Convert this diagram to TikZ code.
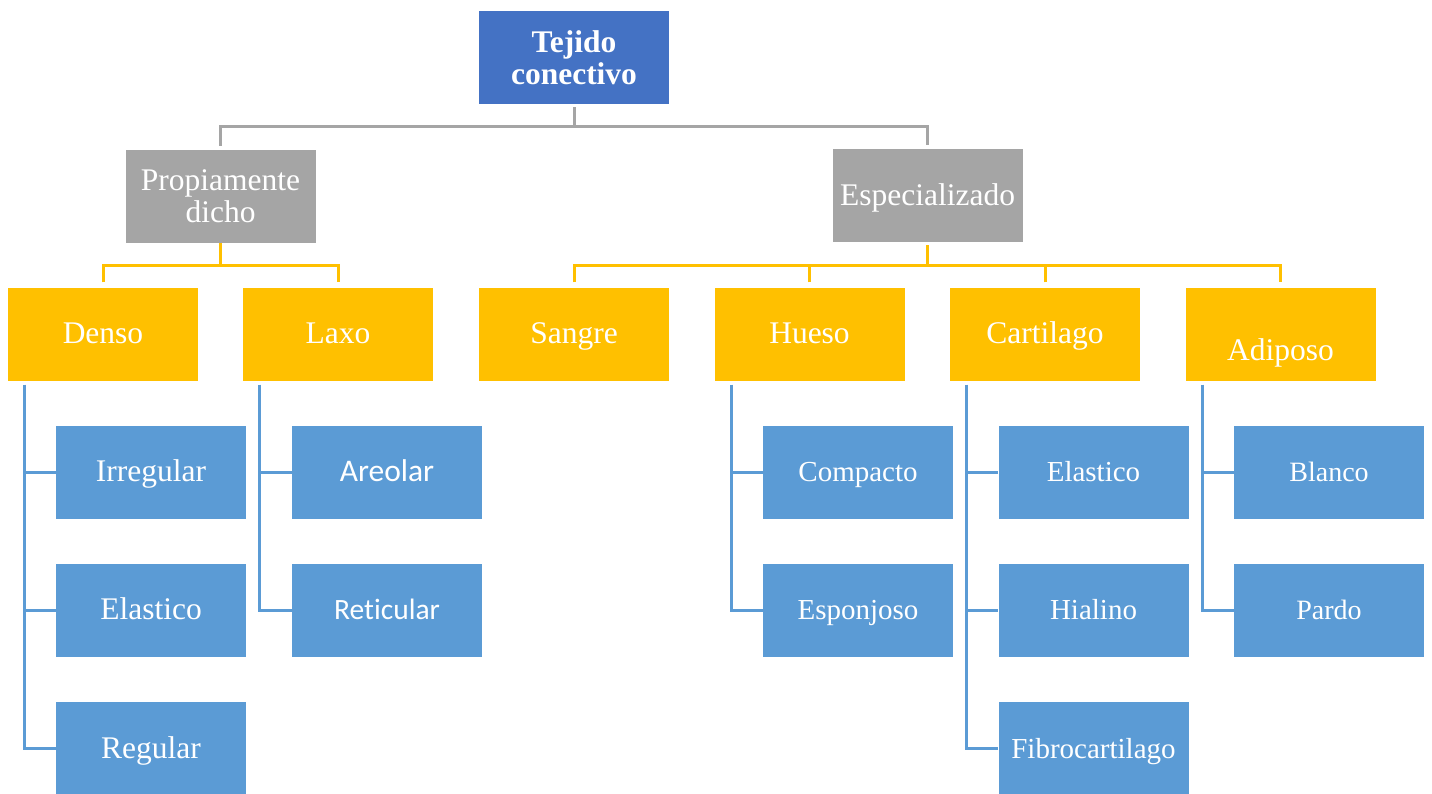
\documentclass[tikz,border=0pt]{standalone}
\usepackage{fontspec}
\setmainfont{Liberation Serif}
\newfontfamily\calib[Ligatures=NoCommon]{Carlito}
\definecolor{cblue}{HTML}{4472C4}
\definecolor{cgray}{HTML}{A5A5A5}
\definecolor{corange}{HTML}{FFC000}
\definecolor{clight}{HTML}{5B9BD5}
\tikzset{
  box/.style={rectangle, minimum width=190pt, minimum height=93pt, inner sep=0pt,
    text=white, align=center, font=\fontsize{31.5}{32}\selectfont},
  one/.style={text height=19pt, text depth=0pt},
  topbox/.style={box, fill=cblue, font=\fontsize{31.5}{32}\selectfont\bfseries},
  graybox/.style={box, fill=cgray},
  orangebox/.style={box, one, fill=corange},
  bluebox/.style={box, one, fill=clight},
  small/.style={font=\fontsize{29}{32}\selectfont},
  smaller/.style={font=\fontsize{28}{32}\selectfont},
  gl/.style={draw=cgray, line width=3pt},
  ol/.style={draw=corange, line width=3pt},
  bl/.style={draw=clight, line width=3pt},
}
\begin{document}
\begin{tikzpicture}[x=1pt,y=-1pt]
\clip (0,0) rectangle (1432,793);
\fill[white] (0,0) rectangle (1432,793);
% level 1
\node[topbox] (tej) at (574,57.5) {Tejido\\conectivo};
% level 2
\node[graybox] (prop) at (220.5,196.5) {Propiamente\\dicho};
\node[graybox, one] (esp) at (927.5,195.5) {Especializado};
% level 3
\node[orangebox] (denso) at (103,334) {Denso};
\node[orangebox] (laxo) at (338,334) {Laxo};
\node[orangebox] (sangre) at (574,334) {Sangre};
\node[orangebox] (hueso) at (809.5,334) {Hueso};
\node[orangebox] (cart) at (1045,334) {Cartilago};
\node[orangebox, text height=52pt] (adip) at (1280.5,334) {Adiposo};
% level 4
\node[bluebox] (irr) at (151,472) {Irregular};
\node[bluebox] (elad) at (151,610) {Elastico};
\node[bluebox] (reg) at (151,748.5) {Regular};
\node[bluebox, font=\fontsize{31.5}{32}\selectfont\calib] (are) at (387,472) {Areolar};
\node[bluebox, font=\fontsize{29.5}{32}\selectfont\calib] (ret) at (387,610) {Reticular};
\node[bluebox, small] (comp) at (858,472) {Compacto};
\node[bluebox, small] (espo) at (858,610) {Esponjoso};
\node[bluebox, small] (elac) at (1093.5,472) {Elastico};
\node[bluebox, small] (hial) at (1093.5,610) {Hialino};
\node[bluebox, small] (fibro) at (1093.5,748.5) {Fibrocartilago};
\node[bluebox, smaller] (blan) at (1329,472) {Blanco};
\node[bluebox, smaller] (pardo) at (1329,610) {Pardo};
% gray connectors
\coordinate (gy) at (0,126);
\draw[gl] ([yshift=-3pt]tej.south) -- (tej.south|-gy);
\draw[gl] ([yshift=4pt]prop.north) |- (tej.south|-gy) -| ([yshift=4pt]esp.north);
% orange connectors
\coordinate (oy) at (0,265);
\draw[ol] (prop.south) -- (prop.south|-oy);
\draw[ol] ([yshift=5pt]denso.north) |- (prop.south|-oy) -| ([yshift=5pt]laxo.north);
\draw[ol] ([yshift=-3pt]esp.south) -- (esp.south|-oy);
\draw[ol] ([yshift=5pt]sangre.north) |- (esp.south|-oy) -| ([yshift=5pt]adip.north);
\draw[ol] ([yshift=5pt]hueso.north) -- (hueso.north|-oy);
\draw[ol] ([yshift=5pt]cart.north) -- (cart.north|-oy);
% blue connectors
\coordinate (dA) at ([xshift=17pt,yshift=-4pt]denso.south west);
\draw[bl] (dA) |- (irr.west) (dA) |- (elad.west) (dA) |- (reg.west);
\coordinate (lA) at ([xshift=17pt,yshift=-4pt]laxo.south west);
\draw[bl] (lA) |- (are.west) (lA) |- (ret.west);
\coordinate (hA) at ([xshift=17pt,yshift=-4pt]hueso.south west);
\draw[bl] (hA) |- (comp.west) (hA) |- (espo.west);
\coordinate (cA) at ([xshift=17pt,yshift=-4pt]cart.south west);
\draw[bl] (cA) |- (elac.west) (cA) |- (hial.west) (cA) |- (fibro.west);
\coordinate (aA) at ([xshift=17pt,yshift=-4pt]adip.south west);
\draw[bl] (aA) |- (blan.west) (aA) |- (pardo.west);
\end{tikzpicture}
\end{document}
